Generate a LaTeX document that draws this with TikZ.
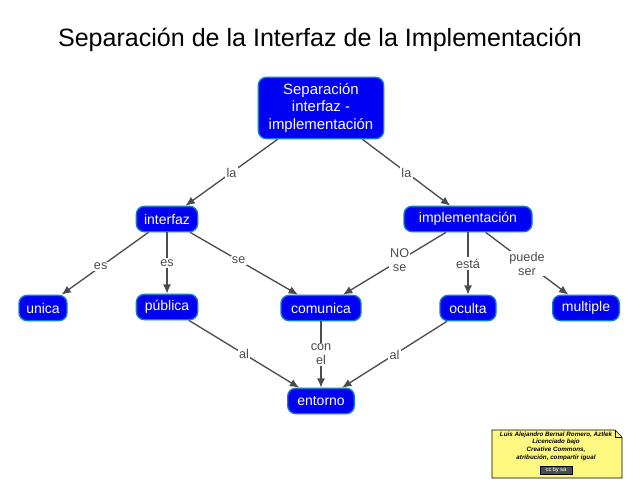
\documentclass[tikz,border=0pt]{standalone}
\usepackage{fontspec}
\setmainfont{Liberation Sans}
\begin{document}
\begin{tikzpicture}[x=0.75pt,y=-0.75pt,
 c/.style={draw=cyan!60!blue,line width=1pt,fill=blue!95!black,text=white,rounded corners=6pt,font=\fontsize{10.5}{12}\selectfont,inner sep=3pt,minimum height=19pt,align=center},
 e/.style={draw=black!70,line width=1pt,-{Latex[length=7pt,width=6pt]}},
 l/.style={fill=white,text=black!70,font=\fontsize{9.5}{10.5}\selectfont,inner sep=1pt,align=center}]
\usetikzlibrary{arrows.meta}
\useasboundingbox (0,0) rectangle (640,494);
\node at (320,40) {\fontsize{18.8}{22}\selectfont Separación de la Interfaz de la Implementación};
\node[c,minimum width=94pt,minimum height=46pt,font=\fontsize{11.2}{13}\selectfont] (r) at (321,108) {Separación\\interfaz -\\implementación};
\node[c,minimum width=46pt] (i) at (167,219) {interfaz};
\node[c,minimum width=96pt] (m) at (468,219) {implementación};
\node[c,minimum width=36pt] (u) at (43,308) {unica};
\node[c,minimum width=46pt] (p) at (167,307) {pública};
\node[c,minimum width=60pt] (co) at (321,308) {comunica};
\node[c,minimum width=42pt] (o) at (468,308) {oculta};
\node[c,minimum width=50pt] (mu) at (586,308) {multiple};
\node[c,minimum width=50pt] (en) at (321,401) {entorno};
\draw[e] (r) -- node[l]{la} (i);
\draw[e] (r) -- node[l]{la} (m);
\draw[e] (i) -- node[l,pos=0.55]{es} (u);
\draw[e] (i) -- node[l]{es} (p);
\draw[e] (i) -- node[l,pos=0.45]{se} (co);
\draw[e] (m) -- node[l,pos=0.45]{NO\\se} (co);
\draw[e] (m) -- node[l]{está} (o);
\draw[e] (m) -- node[l,pos=0.5]{puede\\ser} (mu);
\draw[e] (p) -- node[l]{al} (en);
\draw[e] (co) -- node[l]{con\\el} (en);
\draw[e] (o) -- node[l]{al} (en);
\draw[fill=yellow!50,draw=black] (492,430) -- (615,430) -- (622,437) -- (622,478) -- (492,478) -- cycle;
\draw (615,430) -- (615,437) -- (622,437);
\node[align=center,font=\fontsize{4.7}{5.8}\selectfont\itshape\bfseries] (n) at (556,446) {Luis Alejandro Bernal Romero, Aztlek\\Licenciado bajo\\Creative Commons,\\atribución, compartir igual};
\node[draw,fill=black!70,text=white,font=\fontsize{4.5}{5}\selectfont,inner sep=1pt,minimum width=24pt] (cc) at (556,470) {cc\,by\,sa};
\end{tikzpicture}
\end{document}
